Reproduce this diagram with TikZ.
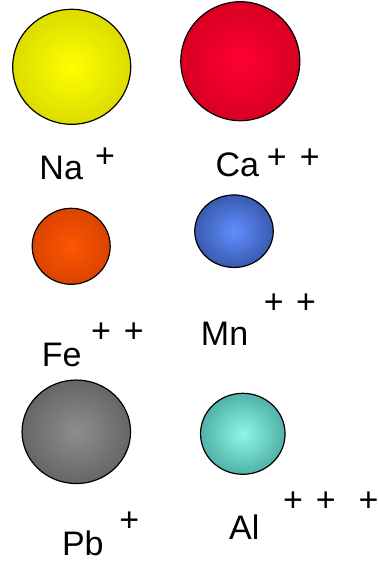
\documentclass[tikz,border=0pt]{standalone}
\usepackage{fontspec}
\setmainfont{Liberation Sans}
\usetikzlibrary{shapes.geometric}
\definecolor{naIn}{HTML}{FFFF00}\definecolor{naOut}{HTML}{DCDC00}
\definecolor{caIn}{HTML}{FF0033}\definecolor{caOut}{HTML}{D80022}
\definecolor{feIn}{HTML}{FF5500}\definecolor{feOut}{HTML}{DA4400}
\definecolor{mnIn}{HTML}{5F90FF}\definecolor{mnOut}{HTML}{3A5AB0}
\definecolor{pbIn}{HTML}{8E8E8E}\definecolor{pbOut}{HTML}{666666}
\definecolor{alIn}{HTML}{90F6E6}\definecolor{alOut}{HTML}{50B2A8}
\tikzset{
  ball/.style 2 args={ellipse, draw=black, line width=1.2pt, inner sep=0pt,
    inner color=#1, outer color=#2},
  sym/.style={anchor=base, inner sep=0pt, font=\fontsize{34}{40}\selectfont},
  chg/.style={anchor=base, inner sep=0pt, font=\fontsize{34}{40}\selectfont},
}
\begin{document}
\begin{tikzpicture}[x=1pt,y=-1pt]
\useasboundingbox (0,0) rectangle (379,561);
% balls
\node[ball={naIn}{naOut}, minimum width=118pt, minimum height=115pt] (na) at (71.7,66.8) {};
\node[ball={caIn}{caOut}, minimum width=119pt, minimum height=119pt] (ca) at (240.3,61.2) {};
\node[ball={feIn}{feOut}, minimum width=78pt, minimum height=76pt] (fe) at (71.2,246.3) {};
\node[ball={mnIn}{mnOut}, minimum width=78.5pt, minimum height=72.5pt] (mn) at (234,231.2) {};
\node[ball={pbIn}{pbOut}, minimum width=108.5pt, minimum height=103.5pt] (pb) at (76.3,431.8) {};
\node[ball={alIn}{alOut}, minimum width=84.5pt, minimum height=81pt] (al) at (242.8,433.8) {};
% symbols
\node[sym] (naT) at (61.2,179) {Na};
\node[sym] (caT) at (237.3,177) {Ca};
\node[sym] (feT) at (61.7,366) {Fe};
\node[sym] (mnT) at (224.6,345) {Mn};
\node[sym] (pbT) at (82.8,555) {Pb};
\node[sym] (alT) at (244.3,539.3) {Al};
% charges
\node[chg] (naP1) at (105,167.5) {+};
\node[chg] (caP1) at (276.7,168.3) {+};
\node[chg] (caP2) at (309.7,168.3) {+};
\node[chg] (feP1) at (101,342) {+};
\node[chg] (feP2) at (133.7,342) {+};
\node[chg] (mnP1) at (273.7,313.7) {+};
\node[chg] (mnP2) at (306,313.7) {+};
\node[chg] (pbP1) at (129.3,531.3) {+};
\node[chg] (alP1) at (293,511) {+};
\node[chg] (alP2) at (325.7,511) {+};
\node[chg] (alP3) at (368.5,511) {+};
\end{tikzpicture}
\end{document}
